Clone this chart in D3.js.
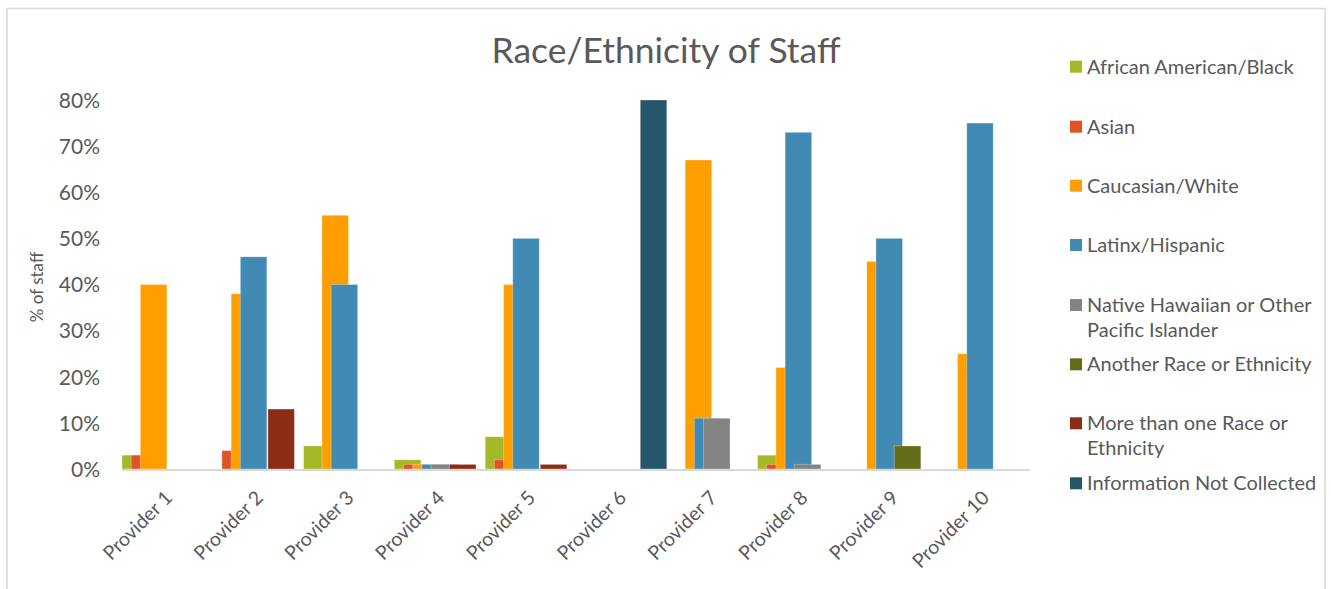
<!DOCTYPE html>
<html>
<head>
<meta charset="utf-8">
<script src="https://cdn.jsdelivr.net/npm/d3@7"></script>
<style>
  body { margin: 0; background: #ffffff; }
  svg text { font-family: Lato, "Open Sans", sans-serif; fill: #595959; }
</style>
</head>
<body>
<svg id="chart" width="1331" height="589"></svg>
<script>
// Categories
const providers = ["Provider 1", "Provider 2", "Provider 3", "Provider 4", "Provider 5",
                   "Provider 6", "Provider 7", "Provider 8", "Provider 9", "Provider 10"];

// Series names and colours (legend order = drawing order)
const seriesNames = [
  "African American/Black",
  "Asian",
  "Caucasian/White",
  "Latinx/Hispanic",
  "Native Hawaiian or Other Pacific Islander",
  "Another Race or Ethnicity",
  "More than one Race or Ethnicity",
  "Information Not Collected"
];
const seriesColors = ["#a6b727", "#df5327", "#fe9e00", "#418ab3", "#838383", "#646b19", "#8b2d16", "#265669"];

// Legend labels broken into lines
const legendLines = [
  ["African American/Black"],
  ["Asian"],
  ["Caucasian/White"],
  ["Latinx/Hispanic"],
  ["Native Hawaiian or Other", "Pacific Islander"],
  ["Another Race or Ethnicity"],
  ["More than one Race or", "Ethnicity"],
  ["Information Not Collected"]
];

// Percent of staff per provider, one array per series
const africanAmerican = [3, 0, 5, 2, 7, 0, 0, 3, 0, 0];
const asian           = [3, 4, 0, 1, 2, 0, 0, 1, 0, 0];
const caucasian       = [40, 38, 55, 1, 40, 0, 67, 22, 45, 25];
const latinx          = [0, 46, 40, 1, 50, 0, 11, 73, 50, 75];
const nativeHawaiian  = [0, 0, 0, 1, 0, 0, 11, 1, 0, 0];
const anotherRace     = [0, 0, 0, 0, 0, 0, 0, 0, 5, 0];
const multiRace       = [0, 13, 0, 1, 1, 0, 0, 0, 0, 0];
const notCollected    = [0, 0, 0, 0, 0, 80, 0, 0, 0, 0];

// Y axis ticks (percent)
const yTicks = [0, 10, 20, 30, 40, 50, 60, 70, 80];

const seriesValues = [africanAmerican, asian, caucasian, latinx, nativeHawaiian, anotherRace, multiRace, notCollected];

const svg = d3.select("#chart");

// Chart area frame
svg.append("rect")
  .attr("x", 7).attr("y", 8.5)
  .attr("width", 1318).attr("height", 620)
  .attr("fill", "#ffffff")
  .attr("stroke", "#d9d9d9")
  .attr("stroke-width", 1.5);

const plot = { left: 122, right: 1030, top: 100, bottom: 469 };

const x = d3.scaleBand().domain(providers).range([plot.left, plot.right]).padding(0);
const y = d3.scaleLinear().domain([0, 80]).range([plot.bottom, plot.top]);

// Overlapping clustered bars: each bar is wide, neighbours step in by a fraction of it
const band = x.bandwidth();
const barWidth = band * 0.292;
const step = (band - barWidth) / (seriesNames.length - 1);

const barData = [];
seriesValues.forEach((vals, si) => {
  vals.forEach((v, pi) => {
    if (v > 0) barData.push({ si, provider: providers[pi], value: v });
  });
});

svg.append("g").selectAll("rect")
  .data(barData)
  .join("rect")
  .attr("x", d => x(d.provider) + d.si * step)
  .attr("y", d => y(d.value))
  .attr("width", barWidth)
  .attr("height", d => y(0) - y(d.value))
  .attr("fill", d => seriesColors[d.si])
  .attr("stroke", "#ffffff")
  .attr("stroke-opacity", 0.3)
  .attr("stroke-width", 1);

// Category axis line
svg.append("line")
  .attr("x1", plot.left).attr("x2", plot.right)
  .attr("y1", y(0) + 1).attr("y2", y(0) + 1)
  .attr("stroke", "#d9d9d9")
  .attr("stroke-width", 2);

// Y axis labels
const yAxis = d3.axisLeft(y).tickValues(yTicks).tickSize(0).tickFormat(d => d + "%");
const yg = svg.append("g").attr("transform", `translate(${plot.left - 22},0)`).call(yAxis);
yg.select(".domain").remove();
yg.selectAll("text")
  .attr("x", 0)
  .attr("dy", "0.35em")
  .style("font-family", "Lato, 'Open Sans', sans-serif")
  .style("font-size", "21px")
  .style("fill", "#595959");

// X axis labels, rotated
const xAxis = d3.axisBottom(x).tickSize(0);
const xg = svg.append("g").attr("transform", `translate(0,${plot.bottom})`).call(xAxis);
xg.select(".domain").remove();
xg.selectAll("text")
  .attr("text-anchor", "end")
  .attr("y", 0)
  .attr("dy", 0)
  .attr("transform", "translate(6,30) rotate(-45)")
  .style("font-family", "Lato, 'Open Sans', sans-serif")
  .style("font-size", "19.5px")
  .style("fill", "#595959");

// Y axis title
svg.append("text")
  .attr("transform", `translate(43,${287}) rotate(-90)`)
  .attr("text-anchor", "middle")
  .style("font-size", "17px")
  .text("% of staff");

// Chart title
svg.append("text")
  .attr("x", 666).attr("y", 63)
  .attr("text-anchor", "middle")
  .style("font-size", "35.5px")
  .text("Race/Ethnicity of Staff");

// Legend
const legendRows = [66.7, 126.7, 185.7, 245, 305, 364.3, 423.3, 483.3];
const lg = svg.append("g");
seriesNames.forEach((name, i) => {
  const cy = legendRows[i];
  lg.append("rect")
    .attr("x", 1070).attr("y", cy - 6)
    .attr("width", 12).attr("height", 12)
    .attr("fill", seriesColors[i]);
  const t = lg.append("text")
    .attr("x", 1087).attr("y", cy)
    .style("font-size", "20px");
  legendLines[i].forEach((line, li) => {
    t.append("tspan").attr("x", 1087).attr("dy", li === 0 ? "0.35em" : "25px").text(line);
  });
});
</script>
</body>
</html>
